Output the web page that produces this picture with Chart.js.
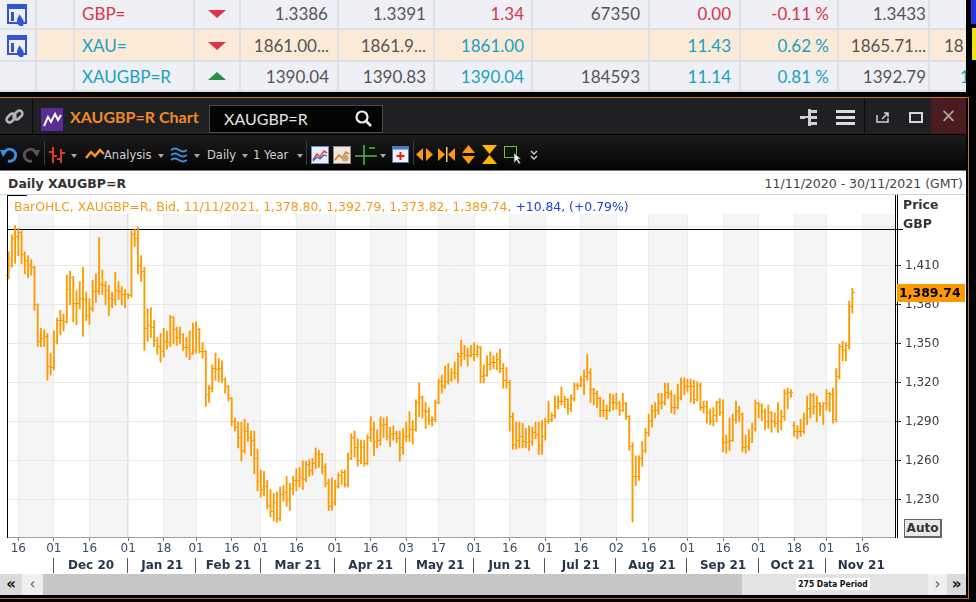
<!DOCTYPE html>
<html>
<head>
<meta charset="utf-8">
<title>XAUGBP=R Chart</title>
<script src="https://cdn.jsdelivr.net/npm/chart.js@4.4.1/dist/chart.umd.min.js"></script>
<style>
  body { margin: 0; width: 976px; height: 602px; overflow: hidden; background: #000; position: relative; font-family: "DejaVu Sans", sans-serif; }
  .a { position: absolute; }
  .quotes { left: 0; top: 0; width: 966px; height: 92px; background: #eef0f5; overflow: hidden; }
  .peach { left: 37px; top: 30px; width: 929px; height: 30px; background: #fcead8; }
  .q { position: absolute; font: 17px Lato, sans-serif; line-height: 20px; color: #555; white-space: nowrap; }
  .red { color: #d9364c; }
  .teal { color: #1aa0c2; }
  .vl { position: absolute; top: 0; width: 2px; height: 92px; background: #dde1e7; }
  .hl { position: absolute; left: 0; width: 966px; height: 2px; background: #dde1e7; }
  .tri-dn { position: absolute; width: 0; height: 0; border-left: 9px solid transparent; border-right: 9px solid transparent; border-top: 8px solid #d9364c; }
  .tri-up { position: absolute; width: 0; height: 0; border-left: 9px solid transparent; border-right: 9px solid transparent; border-bottom: 8px solid #2e8b47; }
  .titlebar { left: 0; top: 98px; width: 966px; height: 36px; background: #1f2023; }
  .toolbar { left: 0; top: 135px; width: 966px; height: 35px; background: linear-gradient(#1c1c1c, #030303); }
  .tb { position: absolute; font-size: 11.5px; color: #d0d0d0; top: 148px; white-space: nowrap; }
  .caret { position: absolute; top: 154px; width: 0; height: 0; border-left: 3.5px solid transparent; border-right: 3.5px solid transparent; border-top: 4px solid #a8a8a8; }
  .sep { position: absolute; top: 141px; width: 1px; height: 24px; background: #3c3c3c; }
  .header { left: 0; top: 170px; width: 966px; height: 25px; background: #fff; border-top: 1px solid #777; border-bottom: 1px solid #d2d2d2; box-sizing: border-box; }
  #wrap { position: absolute; left: 0; top: 195px; width: 966px; height: 379px; background: #fff; overflow: hidden; }
  .sb { position: absolute; top: 574px; height: 21px; }
  .sbt { position: absolute; top: 574px; height: 21px; line-height: 20px; text-align: center; font-size: 15px; }
</style>
</head>
<body>

<!-- quote board above the chart window -->
<div class="a quotes">
  <div class="a peach"></div>
  <div class="hl" style="top:28px"></div>
  <div class="hl" style="top:60px"></div>
  <div class="hl" style="top:90px"></div>
  <div class="vl" style="left:35px"></div>
  <div class="vl" style="left:73px"></div>
  <div class="vl" style="left:193px"></div>
  <div class="vl" style="left:239px"></div>
  <div class="vl" style="left:337px"></div>
  <div class="vl" style="left:433px"></div>
  <div class="vl" style="left:531px"></div>
  <div class="vl" style="left:648px"></div>
  <div class="vl" style="left:739px"></div>
  <div class="vl" style="left:837px"></div>
  <div class="vl" style="left:928px"></div>

  <svg class="a" style="left:7px;top:3px" width="22" height="24"><rect x="1" y="2" width="18" height="18" fill="none" stroke="#3552d6" stroke-width="2"/><rect x="1" y="2" width="18" height="4" fill="#3552d6"/><rect x="4" y="9" width="3" height="9" fill="#3552d6"/><path d="M13 23 C8 20 10 15 13 11 C13 15 19 16 16 23 Z" fill="#3552d6"/></svg>
  <svg class="a" style="left:7px;top:34px" width="22" height="24"><rect x="1" y="2" width="18" height="18" fill="none" stroke="#3552d6" stroke-width="2"/><rect x="1" y="2" width="18" height="4" fill="#3552d6"/><rect x="4" y="9" width="3" height="9" fill="#3552d6"/><path d="M13 23 C8 20 10 15 13 11 C13 15 19 16 16 23 Z" fill="#3552d6"/></svg>

  <div class="q red" style="left:82px;top:4px">GBP=</div>
  <div class="tri-dn" style="left:208px;top:10px"></div>
  <div class="q" style="right:638px;top:4px">1.3386</div>
  <div class="q" style="right:540px;top:4px">1.3391</div>
  <div class="q red" style="right:442px;top:4px">1.34</div>
  <div class="q" style="right:326px;top:4px">67350</div>
  <div class="q red" style="right:235px;top:4px">0.00</div>
  <div class="q red" style="right:137px;top:4px">-0.11 %</div>
  <div class="q" style="right:40px;top:4px">1.3433</div>

  <div class="q teal" style="left:82px;top:36px">XAU=</div>
  <div class="tri-dn" style="left:208px;top:42px"></div>
  <div class="q" style="right:637px;top:36px">1861.00...</div>
  <div class="q" style="right:540px;top:36px">1861.9...</div>
  <div class="q teal" style="right:442px;top:36px">1861.00</div>
  <div class="q teal" style="right:235px;top:36px">11.43</div>
  <div class="q teal" style="right:137px;top:36px">0.62 %</div>
  <div class="q" style="right:40px;top:36px">1865.71...</div>
  <div class="q" style="left:944px;top:36px">18</div>

  <div class="q teal" style="left:82px;top:67px">XAUGBP=R</div>
  <div class="tri-up" style="left:208px;top:72px"></div>
  <div class="q" style="right:637px;top:67px">1390.04</div>
  <div class="q" style="right:540px;top:67px">1390.83</div>
  <div class="q teal" style="right:442px;top:67px">1390.04</div>
  <div class="q" style="right:326px;top:67px">184593</div>
  <div class="q teal" style="right:235px;top:67px">11.14</div>
  <div class="q teal" style="right:137px;top:67px">0.81 %</div>
  <div class="q" style="right:40px;top:67px">1392.79</div>
  <div class="q teal" style="left:960px;top:67px">1</div>
</div>
<div class="a" style="left:971px;top:0;width:5px;height:24px;background:#2334e0"></div>
<div class="a" style="left:972px;top:28px;width:4px;height:32px;background:#f2e318"></div>
<div class="a" style="left:0;top:97px;width:969px;height:1px;background:#c9741e"></div>
<div class="a" style="left:968px;top:97px;width:1px;height:502px;background:#c9741e"></div>

<!-- window title bar -->
<div class="a titlebar">
  <svg class="a" style="left:5px;top:9px" width="20" height="20"><g fill="none" stroke="#b4b4b4" stroke-width="2.6"><rect x="1" y="8" width="10" height="6" rx="3" transform="rotate(-45 6 11)"/><rect x="8" y="5" width="10" height="6" rx="3" transform="rotate(-45 13 8)"/></g></svg>
  <div class="a" style="left:32px;top:0;width:1px;height:36px;background:#0c0c0c"></div>
  <svg class="a" style="left:41px;top:10px" width="22" height="23"><rect width="22" height="23" fill="#5b2c92"/><polyline points="3,18 7,9 10,14 14,6 17,12 20,7" fill="none" stroke="#fff" stroke-width="2"/></svg>
  <div class="a" style="left:70px;top:9px;font:bold 16px Lato,sans-serif;color:#f28a26">XAUGBP=R Chart</div>
  <div class="a" style="left:209px;top:7px;width:172px;height:26px;background:#040404;border:1px solid #4a4a4a"></div>
  <div class="a" style="left:224px;top:11px;font:16px Lato,sans-serif;color:#e4e4e4">XAUGBP=R</div>
  <svg class="a" style="left:355px;top:12px" width="18" height="18"><circle cx="7" cy="7" r="5.5" fill="none" stroke="#f0f0f0" stroke-width="2.2"/><line x1="11" y1="11" x2="16" y2="16" stroke="#f0f0f0" stroke-width="2.6"/></svg>
  <svg class="a" style="left:800px;top:11px" width="18" height="17"><g fill="#d0d0d0"><rect x="0" y="7" width="5" height="3"/><rect x="8" y="0" width="3" height="17"/><rect x="5" y="7" width="3" height="2"/><rect x="11" y="1" width="6" height="3"/><rect x="11" y="7" width="6" height="3"/><rect x="11" y="13" width="6" height="3"/></g></svg>
  <svg class="a" style="left:836px;top:12px" width="19" height="15"><g fill="#dcdcdc"><rect y="0" width="19" height="3"/><rect y="6" width="19" height="3"/><rect y="12" width="19" height="3"/></g></svg>
  <div class="a" style="left:864px;top:0;width:1px;height:36px;background:#0c0c0c"></div>
  <svg class="a" style="left:876px;top:14px" width="13" height="11"><path d="M1 3 V10 H12 V6" fill="none" stroke="#cfcfcf" stroke-width="1.5"/><path d="M6 7 L12 1 M8 1 H12 V5" fill="none" stroke="#cfcfcf" stroke-width="1.5"/></svg>
  <div class="a" style="left:909px;top:14px;width:10px;height:7px;border:2px solid #d6d6d6"></div>
  <div class="a" style="left:931px;top:0;width:35px;height:36px;background:#4a1c20;color:#b8a6a6;font-size:19px;line-height:34px;text-align:center">×</div>
</div>

<!-- toolbar -->
<div class="a toolbar"></div>
<svg class="a" style="left:0;top:146px" width="17" height="17"><path d="M4 7 A6 6 0 1 1 8 15" fill="none" stroke="#3c8ee2" stroke-width="3"/><polygon points="0,4 8,4 3,11" fill="#3c8ee2"/></svg>
<svg class="a" style="left:23px;top:146px" width="17" height="17"><path d="M13 7 A6 6 0 1 0 9 15" fill="none" stroke="#555" stroke-width="3"/><polygon points="17,4 9,4 14,11" fill="#555"/></svg>
<div class="sep" style="left:44px"></div>
<svg class="a" style="left:49px;top:146px" width="16" height="18"><g fill="#e2382c"><rect x="3" y="1" width="2" height="16"/><rect x="0" y="5" width="3" height="2"/><rect x="5" y="9" width="3" height="2"/><rect x="11" y="3" width="2" height="14"/><rect x="8" y="12" width="3" height="2"/><rect x="13" y="6" width="3" height="2"/></g></svg>
<div class="caret" style="left:71px"></div>
<svg class="a" style="left:85px;top:148px" width="20" height="12"><polyline points="1,10 6,4 10,8 15,2 19,6" fill="none" stroke="#ff9a1a" stroke-width="2.4"/></svg>
<div class="tb" style="left:104px">Analysis</div>
<div class="caret" style="left:158px"></div>
<svg class="a" style="left:170px;top:146px" width="17" height="17"><g fill="none" stroke="#3e93dc" stroke-width="1.8"><path d="M1 4 q4 -3 8 0 t8 0"/><path d="M1 9 q4 -3 8 0 t8 0"/><path d="M1 14 q4 -3 8 0 t8 0"/></g></svg>
<div class="caret" style="left:194px"></div>
<div class="tb" style="left:207px">Daily</div>
<div class="caret" style="left:242px"></div>
<div class="tb" style="left:253px">1 Year</div>
<div class="caret" style="left:297px"></div>
<div class="sep" style="left:306px"></div>
<svg class="a" style="left:311px;top:146px" width="18" height="18"><rect x="0.5" y="0.5" width="17" height="17" fill="#e9eef7" stroke="#6e8fc5"/><polyline points="2,14 6,8 9,11 13,5 16,7" fill="none" stroke="#e0493a" stroke-width="1.6"/><polyline points="2,15 6,11 9,13 13,9 16,10" fill="none" stroke="#3366cc" stroke-width="1.2"/></svg>
<svg class="a" style="left:333px;top:146px" width="18" height="18"><rect x="0.5" y="0.5" width="17" height="17" fill="#efe6dc" stroke="#8c8c8c"/><polyline points="2,14 6,9 9,12 13,6 16,8" fill="none" stroke="#e07a20" stroke-width="1.6"/><circle cx="12" cy="12" r="3.5" fill="#c9a57a"/></svg>
<svg class="a" style="left:355px;top:145px" width="22" height="20"><g stroke="#52b043" stroke-width="1.6"><line x1="9" y1="0" x2="9" y2="20"/><line x1="0" y1="11" x2="22" y2="11"/><line x1="14" y1="3" x2="20" y2="3"/></g></svg>
<div class="caret" style="left:380px"></div>
<svg class="a" style="left:392px;top:146px" width="17" height="17"><rect x="0.5" y="0.5" width="16" height="16" fill="#f2f2f2" stroke="#4b78c8"/><rect x="0.5" y="0.5" width="16" height="3" fill="#4b78c8"/><path d="M8.5 6 V14 M4.5 10 H12.5" stroke="#e02020" stroke-width="2"/></svg>
<div class="sep" style="left:413px"></div>
<svg class="a" style="left:416px;top:147px" width="17" height="15"><g fill="#ff9812"><polygon points="0,7.5 7,1 7,14"/><polygon points="17,7.5 10,1 10,14"/></g></svg>
<svg class="a" style="left:438px;top:147px" width="17" height="15"><g fill="#ff9812"><polygon points="7,7.5 0,1 0,14"/><polygon points="10,7.5 17,1 17,14"/><rect x="8" y="0" width="1.5" height="15" fill="#ffc96b"/></g></svg>
<svg class="a" style="left:461px;top:145px" width="15" height="19"><g fill="#ff9812"><polygon points="7.5,0 1,8 14,8"/><polygon points="7.5,19 1,11 14,11"/></g></svg>
<svg class="a" style="left:482px;top:145px" width="15" height="19"><g fill="#ffb400"><polygon points="7.5,9 0,0 15,0"/><polygon points="7.5,10 0,19 15,19"/></g></svg>
<svg class="a" style="left:504px;top:146px" width="18" height="18"><rect x="0.5" y="0.5" width="12" height="11" fill="none" stroke="#7dbb2e"/><polygon points="10,7 10,17 12.5,14 15,18 16.5,17 14,13 17,13" fill="#f0f0f0" stroke="#333" stroke-width="0.6"/></svg>
<svg class="a" style="left:530px;top:150px" width="8" height="11"><g fill="none" stroke="#cfcfcf" stroke-width="1.4"><polyline points="1,1 4,4 7,1"/><polyline points="1,6 4,9 7,6"/></g></svg>

<!-- chart header -->
<div class="a header"></div>
<div class="a" style="left:8px;top:176px;font-weight:bold;font-size:12.5px;color:#333">Daily XAUGBP=R</div>
<div class="a" style="right:13px;top:176px;font-size:12.5px;color:#444">11/11/2020 - 30/11/2021 (GMT)</div>

<!-- chart -->
<div id="wrap"><canvas id="chart" width="966" height="379"></canvas></div>
<div class="a" style="left:14px;top:199px;font-size:12.4px;color:#f39a1e;white-space:nowrap">BarOHLC, XAUGBP=R, Bid, 11/11/2021, 1,378.80, 1,392.79, 1,373.82, 1,389.74, <span style="color:#2141d4">+10.84, (+0.79%)</span></div>
<div class="a" style="left:903px;top:197px;font-weight:bold;font-size:12.5px;color:#333">Price</div>
<div class="a" style="left:903px;top:216px;font-weight:bold;font-size:12.5px;color:#333">GBP</div>
<div class="a" style="left:897px;top:284px;width:66px;height:18px;background:#ff9900;font-weight:bold;font-size:12.5px;line-height:18px;color:#000;padding-left:2px">1,389.74</div>
<div class="a" style="left:904px;top:519px;width:35px;height:16px;border:1px solid #666;border-right-width:2px;border-bottom-width:2px;background:#e9e9e9;font-weight:bold;font-size:12px;line-height:16px;text-align:center;color:#333">Auto</div>

<!-- scroll bar -->
<div class="sb" style="left:0;width:966px;background:#ededed"></div>
<div class="sbt" style="left:0;width:22px;background:#dadada;color:#111;font-weight:bold">«</div>
<div class="sbt" style="left:22px;width:21px;background:#efefef;color:#555">‹</div>
<div class="sb" style="left:43px;width:699px;background:#c6c6c6"></div>
<div class="sb" style="left:742px;width:186px;background:#e3e3e3"></div>
<div class="a" style="left:796px;top:578px;width:74px;height:12px;background:#fff;font:bold 8.5px 'DejaVu Sans Condensed','Liberation Sans',sans-serif;line-height:12px;text-align:center;color:#111">275 Data Period</div>
<div class="sbt" style="left:928px;width:19px;background:#efefef;color:#555">›</div>
<div class="sbt" style="left:947px;width:19px;background:#dadada;color:#111;font-weight:bold">»</div>
<div class="a" style="left:0;top:598px;width:968px;height:1px;background:#c46a12"></div>

<script>
// XAUGBP=R daily bid bars (index 0 = 11 Nov 2020)
const firstDay = '2020-11-11';
const lastDay = '2021-11-30';

const opens = [
  1403,1410,1431,1433,1436,1419,1414,1410,1409,1380,
  1352,1354,1356,1333,1332,1352,1368,1368,1367,1392,
  1401,1381,1381,1385,1384,1372,1377,1390,1390,1396,
  1395,1391,1385,1384,1391,1390,1388,1388,1387,1434,
  1431,1410,1406,1362,1364,1363,1353,1348,1344,1352,
  1351,1370,1361,1355,1357,1347,1347,1343,1345,1361,
  1344,1344,1311,1316,1331,1330,1331,1323,1317,1308,
  1290,1286,1278,1268,1283,1278,1276,1262,1244,1238,
  1240,1226,1221,1228,1216,1234,1236,1230,1239,1245,
  1245,1247,1246,1257,1253,1258,1265,1265,1255,1243,
  1225,1228,1240,1249,1251,1242,1262,1278,1270,1260,
  1270,1258,1278,1284,1275,1276,1287,1288,1279,1280,
  1281,1277,1270,1279,1279,1284,1284,1305,1309,1299,
  1298,1291,1292,1305,1321,1317,1321,1323,1328,1327,
  1340,1343,1341,1341,1342,1342,1347,1325,1326,1334,
  1336,1336,1338,1331,1322,1320,1294,1273,1276,1279,
  1275,1274,1275,1282,1280,1272,1279,1290,1292,1295,
  1302,1306,1306,1307,1300,1308,1318,1318,1323,1325,
  1328,1315,1312,1308,1299,1299,1299,1305,1305,1304,
  1299,1304,1294,1271,1248,1248,1262,1268,1282,1290,
  1299,1299,1304,1305,1313,1312,1301,1301,1308,1320,
  1317,1317,1317,1307,1318,1301,1302,1297,1290,1295,
  1305,1297,1274,1275,1276,1292,1298,1296,1270,1271,
  1277,1285,1304,1303,1298,1290,1297,1290,1289,1290,
  1294,1312,1313,1287,1283,1283,1283,1293,1300,1310,
  1302,1304,1302,1304,1312,1311,1292,1325,1348,1345,
  1349,1378.80
];

const highs = [
  1421,1434,1441,1439,1437,1421,1418,1415,1410,1381,
  1362,1361,1358,1343,1360,1370,1376,1373,1403,1406,
  1402,1391,1398,1409,1390,1385,1399,1404,1432,1407,
  1398,1395,1390,1405,1398,1394,1392,1389,1437,1438,
  1440,1418,1409,1377,1378,1368,1355,1358,1362,1360,
  1372,1371,1363,1363,1358,1355,1360,1366,1367,1362,
  1351,1345,1318,1334,1343,1339,1337,1324,1318,1309,
  1293,1290,1290,1292,1289,1283,1283,1269,1253,1252,
  1245,1238,1235,1236,1240,1241,1248,1243,1248,1254,
  1255,1260,1260,1261,1262,1270,1268,1266,1258,1246,
  1247,1245,1251,1253,1253,1266,1281,1283,1277,1276,
  1276,1280,1294,1290,1284,1294,1293,1294,1286,1287,
  1283,1283,1285,1290,1298,1291,1307,1320,1310,1305,
  1301,1294,1307,1323,1326,1333,1335,1331,1336,1343,
  1353,1349,1347,1349,1351,1349,1348,1334,1341,1344,
  1341,1343,1346,1335,1332,1322,1297,1290,1290,1289,
  1285,1287,1286,1290,1290,1291,1293,1306,1297,1310,
  1310,1317,1310,1308,1311,1320,1320,1325,1330,1342,
  1331,1316,1314,1309,1307,1303,1312,1311,1312,1306,
  1312,1305,1295,1274,1264,1264,1275,1285,1296,1303,
  1305,1312,1312,1320,1320,1314,1311,1319,1324,1324,
  1323,1323,1322,1321,1320,1306,1306,1300,1301,1306,
  1308,1307,1280,1293,1296,1306,1302,1297,1280,1284,
  1289,1307,1305,1304,1300,1303,1298,1297,1305,1299,
  1315,1316,1315,1290,1287,1292,1297,1310,1312,1312,
  1310,1305,1305,1315,1313,1316,1331,1350,1352,1351,
  1383,1392.79
];

const lows = [
  1400,1409,1412,1418,1412,1404,1401,1403,1376,1348,
  1348,1348,1322,1326,1330,1350,1357,1360,1366,1380,
  1367,1365,1377,1356,1368,1365,1375,1382,1388,1388,
  1380,1372,1378,1380,1384,1380,1378,1385,1386,1425,
  1404,1398,1345,1352,1355,1348,1342,1336,1340,1346,
  1348,1350,1349,1350,1345,1340,1338,1342,1343,1343,
  1339,1302,1305,1313,1322,1321,1320,1312,1306,1287,
  1283,1270,1260,1266,1275,1264,1250,1237,1232,1233,
  1223,1217,1214,1213,1214,1229,1225,1222,1234,1237,
  1240,1238,1244,1248,1249,1254,1255,1250,1240,1222,
  1222,1226,1239,1242,1240,1240,1261,1263,1256,1258,
  1256,1257,1275,1264,1270,1272,1278,1276,1271,1276,
  1274,1260,1265,1275,1275,1273,1283,1294,1293,1285,
  1288,1287,1290,1304,1312,1316,1319,1321,1323,1320,
  1333,1338,1333,1340,1337,1340,1320,1320,1325,1330,
  1331,1330,1328,1316,1316,1283,1269,1269,1270,1270,
  1270,1268,1272,1277,1265,1265,1276,1289,1290,1293,
  1300,1303,1301,1296,1298,1306,1315,1317,1311,1322,
  1305,1303,1301,1294,1294,1292,1298,1299,1300,1295,
  1298,1292,1268,1213,1241,1245,1256,1266,1279,1286,
  1293,1296,1300,1303,1308,1297,1296,1300,1307,1311,
  1313,1305,1304,1306,1299,1297,1289,1288,1287,1290,
  1295,1267,1266,1268,1275,1289,1290,1267,1266,1268,
  1274,1283,1293,1291,1284,1285,1282,1286,1282,1284,
  1291,1300,1309,1279,1277,1279,1281,1288,1293,1296,
  1290,1295,1288,1299,1298,1289,1290,1323,1337,1337,
  1346,1373.82
];

const closes = [
  1410,1431,1433,1436,1419,1414,1410,1409,1380,1352,
  1354,1356,1333,1332,1352,1368,1368,1367,1392,1401,
  1381,1381,1385,1384,1372,1377,1390,1390,1396,1395,
  1391,1385,1384,1391,1390,1388,1388,1387,1434,1431,
  1410,1406,1362,1364,1363,1353,1348,1344,1352,1351,
  1370,1361,1355,1357,1347,1347,1343,1345,1361,1344,
  1344,1311,1316,1331,1330,1331,1323,1317,1308,1290,
  1286,1278,1268,1283,1278,1276,1262,1244,1238,1240,
  1226,1221,1228,1216,1234,1236,1230,1239,1245,1245,
  1247,1246,1257,1253,1258,1265,1265,1255,1243,1225,
  1228,1240,1249,1251,1242,1262,1278,1270,1260,1270,
  1258,1278,1284,1275,1276,1287,1288,1279,1280,1281,
  1277,1270,1279,1279,1284,1284,1305,1309,1299,1298,
  1291,1292,1305,1321,1317,1321,1323,1328,1327,1340,
  1343,1341,1341,1342,1342,1347,1325,1326,1334,1336,
  1336,1338,1331,1322,1320,1294,1273,1276,1279,1275,
  1274,1275,1282,1280,1272,1279,1290,1292,1295,1302,
  1306,1306,1307,1300,1308,1318,1318,1323,1325,1328,
  1315,1312,1308,1299,1299,1299,1305,1305,1304,1299,
  1304,1294,1271,1248,1248,1262,1268,1282,1290,1299,
  1299,1304,1305,1313,1312,1301,1301,1308,1320,1317,
  1317,1317,1307,1318,1301,1302,1297,1290,1295,1305,
  1297,1274,1275,1276,1292,1298,1296,1270,1271,1277,
  1285,1304,1303,1298,1290,1297,1290,1289,1290,1294,
  1312,1313,1313,1283,1283,1283,1293,1300,1310,1302,
  1304,1302,1304,1312,1311,1292,1325,1348,1345,1349,
  1379,1389.74
];

// x axis: labelled sessions (the "16"/"01" marks) and month captions
const tickDates = ['2020-11-16','2020-12-01','2020-12-16','2021-01-01','2021-01-18','2021-02-01',
  '2021-02-16','2021-03-01','2021-03-16','2021-04-01','2021-04-16','2021-05-03','2021-05-17',
  '2021-06-01','2021-06-16','2021-07-01','2021-07-16','2021-08-02','2021-08-16','2021-09-01',
  '2021-09-16','2021-10-01','2021-10-18','2021-11-01','2021-11-16'];
const monthNames = ['Dec 20','Jan 21','Feb 21','Mar 21','Apr 21','May 21','Jun 21','Jul 21','Aug 21','Sep 21','Oct 21','Nov 21'];
const monthStarts = ['2020-12-01','2021-01-01','2021-02-01','2021-03-01','2021-04-01','2021-05-03',
  '2021-06-01','2021-07-01','2021-08-02','2021-09-01','2021-10-01','2021-11-01'];

// y axis
const priceTicks = [1230, 1260, 1290, 1320, 1350, 1380, 1410, 1440];
const yMin = 1201.5;
const yMax = 1450;
const refLine = 1438.5;

const orange = '#ff9900';

// one category per weekday in the period (275 sessions)
function weekdays(from, to) {
  const out = [];
  const d = new Date(from + 'T00:00:00Z');
  const end = new Date(to + 'T00:00:00Z');
  while (d <= end) {
    const wd = d.getUTCDay();
    if (wd !== 0 && wd !== 6) out.push(d.toISOString().slice(0, 10));
    d.setUTCDate(d.getUTCDate() + 1);
  }
  return out;
}
const days = weekdays(firstDay, lastDay);
const tickIdx = tickDates.map(d => days.indexOf(d));
const tickSet = new Set(tickIdx);

// open tick sits left of the bar, close tick right of it
function tickMark(side) {
  const c = document.createElement('canvas');
  c.width = 5; c.height = 1;
  const g = c.getContext('2d');
  g.fillStyle = orange;
  g.fillRect(side < 0 ? 0 : 3, 0, 2, 1);
  return c;
}

const chartDecor = {
  id: 'chartDecor',
  beforeDraw(chart) {
    const { ctx, chartArea: a, scales: { x } } = chart;
    ctx.save();
    // grey band over the second half of every month
    ctx.fillStyle = '#f5f5f5';
    for (let k = 0; k < tickIdx.length; k += 2) {
      const x0 = x.getPixelForValue(tickIdx[k]);
      const x1 = k + 1 < tickIdx.length ? x.getPixelForValue(tickIdx[k + 1]) : a.right;
      ctx.fillRect(x0, a.top, x1 - x0, a.bottom - a.top);
    }
    // year change
    const xy = Math.round(x.getPixelForValue(days.indexOf('2021-01-01')));
    ctx.fillStyle = '#e0e0e0';
    ctx.fillRect(xy - 1, a.top, 2, a.bottom - a.top);
    ctx.restore();
  },
  beforeDatasetsDraw(chart) {
    const { ctx, chartArea: a, scales: { y } } = chart;
    const yy = Math.round(y.getPixelForValue(refLine)) + 0.5;
    ctx.save();
    ctx.strokeStyle = '#000';
    ctx.lineWidth = 1;
    ctx.beginPath();
    ctx.moveTo(a.left, yy);
    ctx.lineTo(a.right + 7, yy);
    ctx.stroke();
    ctx.restore();
  },
  afterDraw(chart) {
    const { ctx, chartArea: a, scales: { x } } = chart;
    ctx.save();
    ctx.lineWidth = 1;
    ctx.strokeStyle = '#a0a0a0';
    ctx.beginPath();
    ctx.moveTo(a.left, a.bottom + 0.5);
    ctx.lineTo(a.right, a.bottom + 0.5);
    ctx.stroke();
    ctx.strokeStyle = '#000';
    ctx.beginPath();
    ctx.moveTo(a.left + 0.5, 0);
    ctx.lineTo(a.left + 0.5, a.bottom + 1);
    ctx.moveTo(a.right - 0.5, 0);
    ctx.lineTo(a.right - 0.5, a.bottom + 1);
    ctx.moveTo(a.right + 1.5, 0);
    ctx.lineTo(a.right + 1.5, a.bottom + 1);
    ctx.moveTo(a.left, 0.5);
    ctx.lineTo(a.left + 20, 0.5);
    ctx.stroke();

    // month captions with separators
    ctx.font = 'bold 12px "DejaVu Sans"';
    ctx.fillStyle = '#26374d';
    ctx.textAlign = 'center';
    ctx.textBaseline = 'middle';
    ctx.strokeStyle = '#555';
    monthStarts.forEach((d, k) => {
      const x0 = x.getPixelForValue(days.indexOf(d));
      const x1 = k + 1 < monthStarts.length ? x.getPixelForValue(days.indexOf(monthStarts[k + 1])) : a.right;
      const sx = Math.round(x0) - 0.5;
      ctx.beginPath();
      ctx.moveTo(sx, a.bottom + 21);
      ctx.lineTo(sx, a.bottom + 36);
      ctx.stroke();
      ctx.fillText(monthNames[k], (x0 + x1) / 2, a.bottom + 29);
    });
    ctx.restore();
  }
};

Chart.defaults.font.family = '"DejaVu Sans", sans-serif';

const ranges = highs.map((h, i) => [lows[i], h]);

new Chart(document.getElementById('chart'), {
  type: 'bar',
  data: {
    labels: days,
    datasets: [
      {
        label: 'High-Low',
        data: ranges,
        backgroundColor: orange,
        borderWidth: 0,
        barThickness: 1.2,
        grouped: false,
        order: 2
      },
      {
        type: 'line',
        label: 'Open',
        data: opens,
        showLine: false,
        pointStyle: tickMark(-1),
        pointRadius: 2,
        order: 1
      },
      {
        type: 'line',
        label: 'Close',
        data: closes,
        showLine: false,
        pointStyle: tickMark(1),
        pointRadius: 2,
        order: 1
      }
    ]
  },
  options: {
    responsive: false,
    animation: false,
    devicePixelRatio: 1,
    events: [],
    layout: { padding: { left: 7, top: 19, right: 0, bottom: 0 } },
    plugins: { legend: { display: false }, tooltip: { enabled: false } },
    scales: {
      x: {
        type: 'category',
        offset: true,
        border: { display: false },
        grid: {
          offset: false,
          color: c => tickSet.has(c.index) ? '#ececec' : 'rgba(0,0,0,0)',
          tickColor: c => tickSet.has(c.index) ? '#777' : 'rgba(0,0,0,0)',
          tickLength: 4
        },
        ticks: {
          autoSkip: false,
          maxRotation: 0,
          minRotation: 0,
          padding: 1,
          color: '#3a4c66',
          font: { size: 12 },
          callback: (v, i) => tickSet.has(i) ? days[i].slice(8) : ''
        },
        afterFit: s => { s.height = 37; }
      },
      y: {
        position: 'right',
        min: yMin,
        max: yMax,
        border: { display: false },
        afterBuildTicks: s => { s.ticks = priceTicks.map(v => ({ value: v })); },
        grid: {
          color: '#e8e8e8',
          tickColor: c => c.tick && c.tick.value === 1440 ? 'rgba(0,0,0,0)' : '#333',
          tickLength: 5
        },
        ticks: {
          padding: 4,
          color: '#3c3c3c',
          font: { size: 12 },
          callback: v => v === 1440 ? '' : v.toLocaleString('en-US')
        },
        afterFit: s => { s.width = 70; }
      }
    }
  },
  plugins: [chartDecor]
});
</script>
</body>
</html>
